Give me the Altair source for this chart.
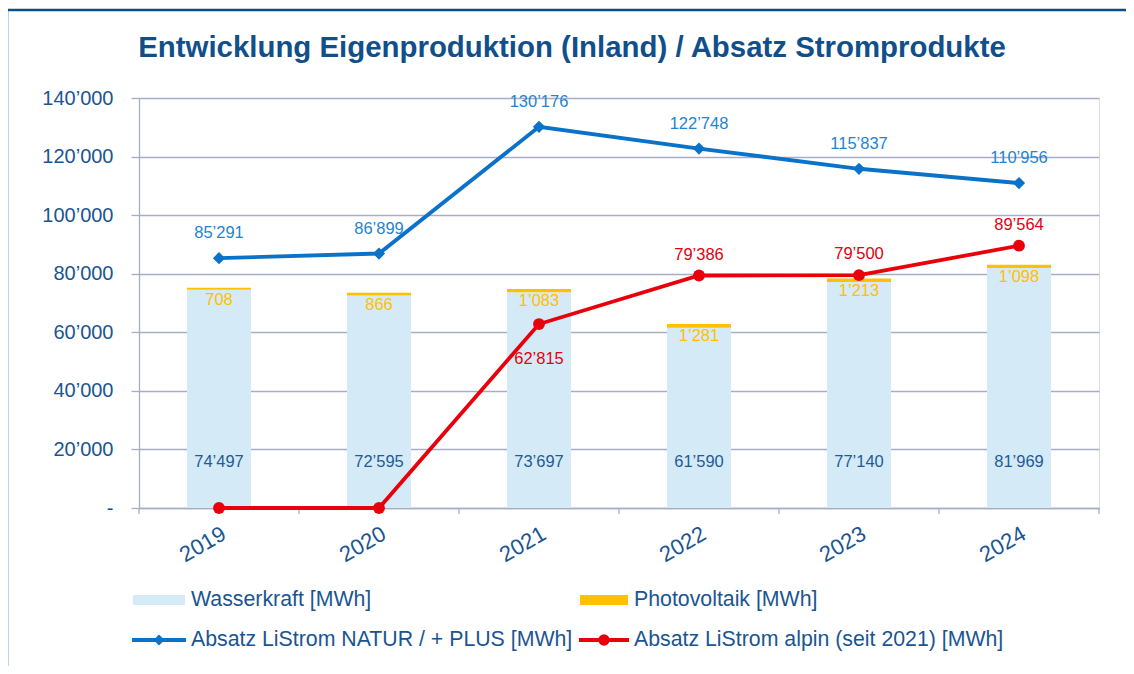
import altair as alt
import pandas as pd

# ---------------- data ----------------
years = ["2019", "2020", "2021", "2022", "2023", "2024"]
wasserkraft = [74497, 72595, 73697, 61590, 77140, 81969]
photovoltaik = [708, 866, 1083, 1281, 1213, 1098]
natur_plus = [85291, 86899, 130176, 122748, 115837, 110956]
alpin = [0, 0, 62815, 79386, 79500, 89564]
series_names = [
    "Wasserkraft [MWh]",
    "Photovoltaik [MWh]",
    "Absatz LiStrom NATUR / + PLUS [MWh]",
    "Absatz LiStrom alpin (seit 2021) [MWh]",
]
title_text = "Entwicklung Eigenproduktion (Inland) / Absatz Stromprodukte"
y_ticks = [0, 20000, 40000, 60000, 80000, 100000, 120000, 140000]

df = pd.DataFrame({
    "year": years,
    "wasser": wasserkraft,
    "pv": photovoltaik,
    "natur": natur_plus,
    "alpin": alpin,
})

# ---------------- style ----------------
W, H = 960, 410
FONT = "Liberation Sans"
DARK = "#114F8A"
AXIS_TXT = "#1A5592"
GRID = "#A7AEC4"
BLUE = "#0A72C8"
BLUE_TXT = "#2583D1"
RED = "#E8000B"
RED_TXT = "#E3000F"
WATER = "#D5EAF7"
PV = "#FFC000"
FMT = "replace(format({v}, ','), ',', '’')"

xs = alt.Scale(domain=years, paddingInner=0, paddingOuter=0)
ys = alt.Scale(domain=[0, 140000], nice=False, zero=True)

x_axis = alt.Axis(
    title=None, labelAngle=330, labelAlign="right", labelBaseline="top",
    labelFontSize=22, labelFont=FONT, labelColor=AXIS_TXT, labelPadding=15,
    ticks=False, domainColor=GRID, domainWidth=1.3, grid=False)
y_axis = alt.Axis(
    title=None, values=y_ticks,
    labelExpr="datum.value == 0 ? '-' : " + FMT.format(v="datum.value"),
    labelFontSize=20, labelFont=FONT, labelColor=AXIS_TXT, labelPadding=18,
    tickSize=8, tickColor=GRID, tickWidth=1.3,
    domainColor=GRID, domainWidth=1.3,
    grid=True, gridColor=GRID, gridWidth=1.3)

X = alt.X("year:N", scale=xs, sort=years, axis=x_axis)
def Y(field):
    return alt.Y(field, scale=ys, axis=y_axis)

base = alt.Chart(df).transform_calculate(
    top="datum.wasser + datum.pv",
    wasser_lbl=FMT.format(v="datum.wasser"),
    pv_lbl=FMT.format(v="datum.pv"),
    natur_lbl=FMT.format(v="datum.natur"),
    alpin_lbl=FMT.format(v="datum.alpin"),
)

bars_w = base.mark_bar(color=WATER, size=64).encode(x=X, y=Y("wasser:Q"))
bars_pv = base.mark_bar(color=PV, size=64).encode(x=X, y=Y("wasser:Q"), y2="top:Q")

# ticks between categories on x axis
xticks = base.mark_rule(color=GRID, strokeWidth=1.3).encode(
    x=alt.X("year:N", scale=xs, sort=years, axis=x_axis, bandPosition=0),
    y=alt.value(H), y2=alt.value(H + 6))
one = pd.DataFrame({"k": [0]})
end_tick = alt.Chart(one).mark_rule(color=GRID, strokeWidth=1.3).encode(
    x=alt.value(W), y=alt.value(H), y2=alt.value(H + 6))

line_b = base.mark_line(color=BLUE, strokeWidth=3.8).encode(x=X, y=Y("natur:Q"))
pts_b = base.mark_point(shape="diamond", filled=True, color=BLUE, size=150, opacity=1).encode(
    x=X, y=Y("natur:Q"))
line_r = base.mark_line(color=RED, strokeWidth=3.8).encode(x=X, y=Y("alpin:Q"))
pts_r = base.mark_circle(color=RED, size=140, opacity=1).encode(x=X, y=Y("alpin:Q"))

txt = dict(font=FONT, fontSize=16.5, baseline="middle", align="center")
lbl_w = base.mark_text(color="#1F5B94", **txt).encode(
    x=X, y=alt.value(H - 46), text="wasser_lbl:N")
lbl_pv = base.mark_text(color=PV, dy=12, **txt).encode(
    x=X, y=Y("top:Q"), text="pv_lbl:N")
lbl_b = base.mark_text(color=BLUE_TXT, dy=-25, **txt).encode(
    x=X, y=Y("natur:Q"), text="natur_lbl:N")
lbl_r_up = base.transform_filter("datum.alpin > 0 && datum.year != '2021'").mark_text(
    color=RED_TXT, dy=-21, **txt).encode(x=X, y=Y("alpin:Q"), text="alpin_lbl:N")
lbl_r_dn = base.transform_filter("datum.year == '2021'").mark_text(
    color=RED_TXT, dy=35, **txt).encode(x=X, y=Y("alpin:Q"), text="alpin_lbl:N")

# ---------------- legend (custom) ----------------
def leg_text(name, x, y):
    return alt.Chart(pd.DataFrame({"name": [name]})).mark_text(
        font=FONT, fontSize=21.3, color=AXIS_TXT, align="left", baseline="middle").encode(
        x=alt.value(x), y=alt.value(y), text="name:N")

R1, R2 = 502, 542
leg = [
    alt.Chart(one).mark_rect(color=WATER).encode(
        x=alt.value(-6), x2=alt.value(46), y=alt.value(R1 - 5), y2=alt.value(R1 + 5)),
    leg_text(series_names[0], 52, R1),
    alt.Chart(one).mark_rect(color=PV).encode(
        x=alt.value(441), x2=alt.value(489), y=alt.value(R1 - 5), y2=alt.value(R1 + 5)),
    leg_text(series_names[1], 495, R1),
    alt.Chart(one).mark_rule(color=BLUE, strokeWidth=3.8).encode(
        x=alt.value(-7), x2=alt.value(47), y=alt.value(R2)),
    alt.Chart(one).mark_point(shape="diamond", filled=True, color=BLUE, size=120, opacity=1).encode(
        x=alt.value(20), y=alt.value(R2)),
    leg_text(series_names[2], 52, R2),
    alt.Chart(one).mark_rule(color=RED, strokeWidth=3.8).encode(
        x=alt.value(440), x2=alt.value(490), y=alt.value(R2)),
    alt.Chart(one).mark_circle(color=RED, size=130, opacity=1).encode(
        x=alt.value(465), y=alt.value(R2)),
    leg_text(series_names[3], 495, R2),
]

title = alt.Chart(pd.DataFrame({"t": [title_text]})).mark_text(
    font=FONT, fontSize=29.4, fontWeight="bold", color=DARK,
    align="center", baseline="alphabetic").encode(
    x=alt.value(433), y=alt.value(-41), text="t:N")

frame = alt.Chart(one).mark_rect(fillOpacity=0, stroke="#0B4F8A", strokeWidth=2.5).encode(
    x=alt.value(-132), x2=alt.value(1020), y=alt.value(-88), y2=alt.value(620))

chart = alt.layer(
    bars_w, bars_pv, xticks, end_tick,
    line_b, pts_b, line_r, pts_r,
    lbl_w, lbl_pv, lbl_b, lbl_r_up, lbl_r_dn,
    *leg, title, frame,
).properties(
    width=W, height=H,
    autosize=alt.AutoSizeParams(type="none"),
    padding={"left": 131, "top": 90, "right": 27, "bottom": 158},
).configure_view(stroke=None).configure(background="white")

chart.save("out.html", embed_options={"renderer": "svg", "actions": False})
